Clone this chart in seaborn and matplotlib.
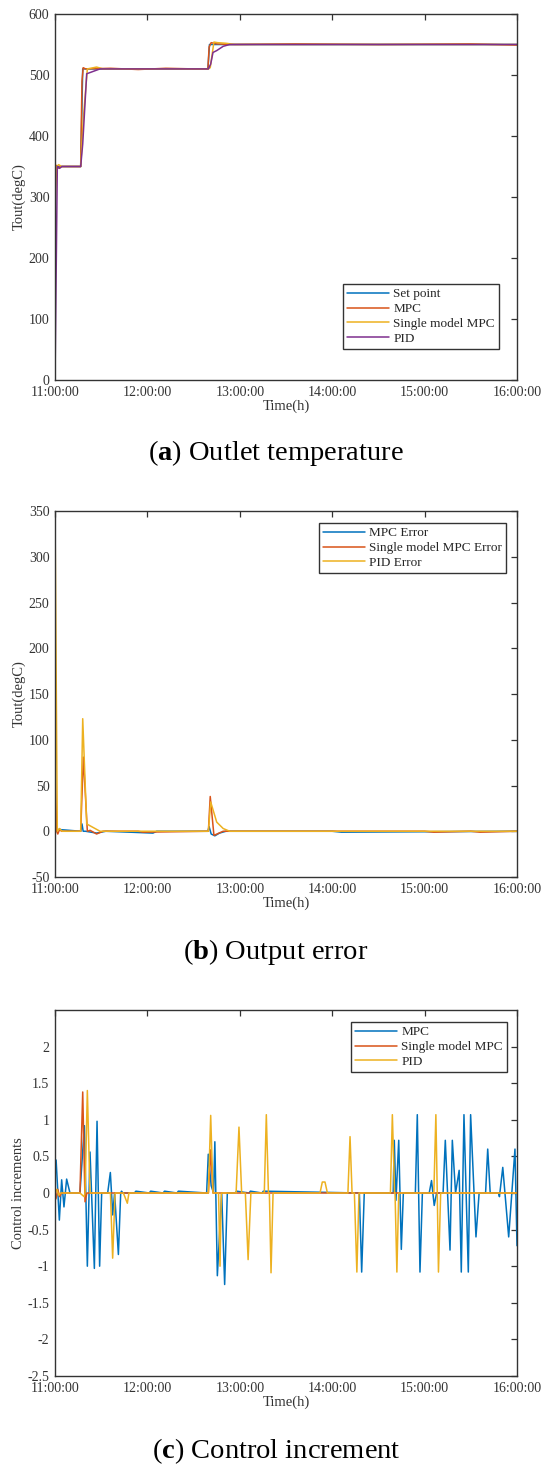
import matplotlib
matplotlib.use("Agg")
import matplotlib.pyplot as plt
import seaborn as sns

# ---- data (time in hours after 11:00) ----
time_ticks = [0, 1, 2, 3, 4, 5]
time_labels = ["11:00:00", "12:00:00", "13:00:00", "14:00:00", "15:00:00", "16:00:00"]

# (a) outlet temperature
sp_t = [0.0, 0.278, 0.300, 1.655, 1.672, 5.0]
sp_v = [350, 350, 510, 510, 550, 550]
mpc_t = [0.0, 0.012, 0.03, 0.06, 0.278, 0.292, 0.305, 0.33, 0.6, 0.9, 1.2, 1.5, 1.655, 1.668, 1.69, 1.75, 1.9, 2.6, 3.5, 4.5, 5.0]
mpc_v = [310, 352, 347, 350, 350, 490, 512, 510, 511, 509, 511, 510, 510, 546, 553, 551, 550, 551, 550, 551, 549]
smpc_t = [0.0, 0.018, 0.04, 0.07, 0.278, 0.307, 0.35, 0.45, 0.52, 1.66, 1.68, 1.72, 1.76, 1.85, 1.95, 5.0]
smpc_v = [280, 350, 353, 350, 350, 429, 510, 513, 510, 510, 512, 554, 553, 552, 550, 550]
pid_t = [0.0, 0.025, 0.05, 0.075, 0.278, 0.30, 0.343, 0.415, 0.487, 1.66, 1.685, 1.71, 1.75, 1.82, 1.89, 5.0]
pid_v = [0, 350, 347, 350, 350, 387, 502, 506, 510, 510, 518, 537, 540, 547, 550, 550]

# (b) output error
mpc_err_t = [0.0, 0.012, 0.03, 0.278, 0.292, 0.305, 0.33, 0.45, 0.55, 1.06, 1.1, 1.655, 1.668, 1.69, 1.73, 1.78, 1.85, 3.0, 3.1, 5.0]
mpc_err_v = [40, 0, 2, 0, 8, 0, 0, -2, 0, -2, 0, 0, 5, -3, -5, -2, 0, 0, -1, 0]
smpc_err_t = [0.0, 0.018, 0.03, 0.05, 0.07, 0.278, 0.307, 0.35, 0.38, 0.45, 0.52, 0.9, 0.95, 1.66, 1.68, 1.72, 1.82, 4.0, 4.1, 4.5, 4.6, 5.0]
smpc_err_v = [70, 0, -3, 2, 0, 0, 81, 0, 1, -3, 0, 0, -1, 0, 38, -4.5, 0, 0, -1, 0, -1, 0]
pid_err_t = [0.0, 0.025, 0.05, 0.075, 0.278, 0.30, 0.343, 0.415, 0.487, 1.66, 1.685, 1.75, 1.82, 1.89, 5.0]
pid_err_v = [350, 0, 3, 0, 0, 123, 8, 4, 0, 0, 32, 10, 3, 0, 0]

# (c) control increments
du_mpc_t = [0.0, 0.012, 0.047, 0.072, 0.097, 0.126, 0.162, 0.27, 0.318, 0.350, 0.379, 0.426, 0.455, 0.483, 0.505,
            0.57, 0.599, 0.625, 0.645, 0.686, 0.711, 0.72, 0.735, 0.86, 0.875, 1.02, 1.035, 1.17, 1.185, 1.32, 1.335,
            1.641, 1.659, 1.69, 1.716, 1.73, 1.757, 1.804, 1.836, 1.865, 1.95, 1.965, 2.1, 2.115, 2.24, 2.255,
            3.294, 3.319, 3.347, 3.66, 3.672, 3.69, 3.72, 3.748, 3.77, 3.90, 3.921, 3.95, 3.976,
            4.05, 4.075, 4.104, 4.13, 4.20, 4.224, 4.275, 4.30, 4.335, 4.374, 4.397, 4.426, 4.473, 4.498,
            4.556, 4.59, 4.66, 4.683, 4.71, 4.80, 4.81, 4.846, 4.91, 4.978, 5.0]
du_mpc_v = [0.45, 0.45, -0.37, 0.18, -0.19, 0.19, 0.0, 0.0, 0.92, -1.0, 0.56, -1.03, 0.98, -1.0, 0.0,
            0.0, 0.28, -0.3, 0.0, -0.84, 0.0, 0.025, 0.0, 0.0, 0.025, 0.0, 0.025, 0.0, 0.025, 0.0, 0.025,
            0.0, 0.53, 0.1, 0.0, 0.70, -1.13, 0.0, -1.25, 0.0, 0.0, 0.025, 0.0, 0.025, 0.0, 0.025,
            0.0, -1.08, 0.0, 0.0, 0.72, -0.1, 0.72, -0.77, 0.0, 0.0, 1.07, -1.08, 0.0,
            0.0, 0.17, -0.17, 0.0, 0.0, 0.72, -0.78, 0.72, 0.0, 0.31, -1.08, 1.07, -1.08, 1.07,
            -0.6, 0.0, 0.0, 0.6, 0.0, 0.0, -0.05, 0.35, -0.6, 0.6, -0.72]
du_smpc_t = [0.0, 0.01, 0.03, 0.05, 0.07, 0.27, 0.30, 0.325, 0.345, 1.66, 1.685, 1.71, 5.0]
du_smpc_v = [0.0, -0.08, 0.05, -0.05, 0.0, 0.0, 1.38, -0.12, 0.0, 0.0, 0.59, 0.0, 0.0]
du_pid_t = [0.0, 0.02, 0.04, 0.06, 0.27, 0.315, 0.325, 0.35, 0.379, 0.60, 0.624, 0.65, 0.74, 0.783, 0.80,
            1.66, 1.685, 1.71, 1.77, 1.786, 1.80, 1.96, 1.991, 2.02, 2.06, 2.09, 2.12, 2.265, 2.287, 2.31,
            2.32, 2.338, 2.36, 2.868, 2.893, 2.922, 2.948, 3.17, 3.193, 3.215, 3.24, 3.267, 3.29,
            3.63, 3.651, 3.675, 3.68, 3.700, 3.72, 4.10, 4.122, 4.137, 4.150, 4.174, 5.0]
du_pid_v = [0.0, 0.05, -0.03, 0.0, 0.0, -0.05, 0.0, 1.40, 0.0, 0.0, -0.89, 0.0, 0.0, -0.14, 0.0,
            0.0, 1.06, 0.0, 0.0, -1.0, 0.0, 0.0, 0.90, 0.0, 0.0, -0.91, 0.0, 0.0, 1.07, 0.0,
            0.0, -1.09, 0.0, 0.0, 0.15, 0.15, 0.0, 0.0, 0.77, 0.0, 0.0, -1.08, 0.0,
            0.0, 1.07, 0.0, 0.0, -1.08, 0.0, 0.0, 1.07, 0.0, -1.08, 0.0, 0.0]

BLUE, ORANGE, YELLOW, PURPLE = "#0072BD", "#D95319", "#EDB120", "#7E2F8E"

sns.set_theme(style="white")
plt.rcParams['font.family'] = ['Liberation Serif', 'DejaVu Serif']
plt.rcParams['mathtext.fontset'] = 'custom'
plt.rcParams['mathtext.rm'] = 'Liberation Serif'
plt.rcParams['mathtext.bf'] = 'Liberation Serif:bold'

fig = plt.figure(figsize=(5.5, 14.73), dpi=100)
W, H = 550.0, 1473.0


def make_axes(top, bottom):
    return fig.add_axes([55 / W, 1 - bottom / H, 462 / W, (bottom - top) / H])


def style(ax, ylim, yticks, ylabels, ylabel):
    ax.set_xlim(0, 5)
    ax.set_ylim(*ylim)
    ax.set_xticks(time_ticks)
    ax.set_xticklabels(time_labels)
    ax.set_yticks(yticks)
    ax.set_yticklabels(ylabels)
    ax.tick_params(direction='in', length=4, width=0.9, color='#333333', top=True, right=True,
                   labelsize=10, labelcolor='#333333', pad=4)
    for s in ax.spines.values():
        s.set_color('#333333')
        s.set_linewidth(1.0)
    ax.set_xlabel("Time(h)", fontsize=10.5, color='#333333', labelpad=1)
    ax.set_ylabel(ylabel, fontsize=10.5, color='#333333', labelpad=2)


def draw(ax, t, v, color, label):
    sns.lineplot(x=t, y=v, ax=ax, color=color, lw=1.1, sort=False, estimator=None, label=label)


def legend(ax, loc, anchor):
    leg = ax.legend(loc=loc, bbox_to_anchor=anchor, frameon=True, fancybox=False, framealpha=1,
                    edgecolor='#333333', fontsize=9.5, handlelength=3.2, handletextpad=0.3,
                    labelspacing=0.2, borderpad=0.3, borderaxespad=0)
    leg.get_frame().set_linewidth(1.0)


# (a)
ax1 = make_axes(14, 380)
draw(ax1, sp_t, sp_v, BLUE, "Set point")
draw(ax1, mpc_t, mpc_v, ORANGE, "MPC")
draw(ax1, smpc_t, smpc_v, YELLOW, "Single model MPC")
draw(ax1, pid_t, pid_v, PURPLE, "PID")
style(ax1, (0, 600), range(0, 601, 100), [str(v) for v in range(0, 601, 100)], "Tout(degC)")
legend(ax1, 'lower right', (0.961, 0.085))

# (b)
ax2 = make_axes(511, 877)
draw(ax2, mpc_err_t, mpc_err_v, BLUE, "MPC Error")
draw(ax2, smpc_err_t, smpc_err_v, ORANGE, "Single model MPC Error")
draw(ax2, pid_err_t, pid_err_v, YELLOW, "PID Error")
style(ax2, (-50, 350), range(-50, 351, 50), [str(v) for v in range(-50, 351, 50)], "Tout(degC)")
legend(ax2, 'upper right', (0.976, 0.967))

# (c)
ax3 = make_axes(1010, 1376)
draw(ax3, du_mpc_t, du_mpc_v, BLUE, "MPC")
draw(ax3, du_smpc_t, du_smpc_v, ORANGE, "Single model MPC")
draw(ax3, du_pid_t, du_pid_v, YELLOW, "PID")
c_ticks = [-2.5, -2, -1.5, -1, -0.5, 0, 0.5, 1, 1.5, 2]
c_labels = ["-2.5", "-2", "-1.5", "-1", "-0.5", "0", "0.5", "1", "1.5", "2"]
style(ax3, (-2.5, 2.5), c_ticks, c_labels, "Control increments")
legend(ax3, 'upper right', (0.978, 0.967))

# captions
cap_kw = dict(ha='center', va='center', fontsize=20.5, color='black')
fig.text(276 / W, 1 - 453 / H, r"($\mathbf{a}$) Outlet temperature", **cap_kw)
fig.text(276 / W, 1 - 952 / H, r"($\mathbf{b}$) Output error", **cap_kw)
fig.text(276 / W, 1 - 1451 / H, r"($\mathbf{c}$) Control increment", **cap_kw)

fig.savefig("out.png", dpi=100, facecolor='white')
